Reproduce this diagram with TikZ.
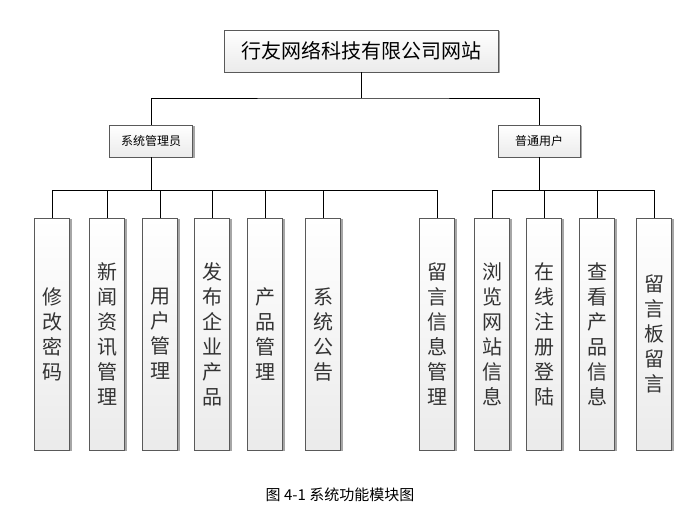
\documentclass[tikz,border=0pt]{standalone}
\usepackage{fontspec}
\setmainfont{Noto Sans CJK SC}
\usetikzlibrary{shadows}
\tikzset{
  mod/.style={draw=black!65, top color=white, bottom color=black!8, general shadow={fill=black!35, shadow xshift=2pt, shadow yshift=-1pt}},
  leaf/.style={mod, minimum width=35pt, minimum height=232pt, inner sep=0pt, align=center, font=\fontsize{20}{25}\selectfont, text=black!80, anchor=north},
  link/.style={draw, thin}
}
\begin{document}
\begin{tikzpicture}[x=1pt,y=-1pt]
\useasboundingbox (0,0) rectangle (685,520);
\node [mod, minimum width=274pt, minimum height=42pt, font=\fontsize{20}{22}\selectfont] (root) at (361,51) {行友网络科技有限公司网站};
\node [mod, minimum width=83pt, minimum height=32pt, font=\fontsize{12}{14}\selectfont] (admin) at (151,141) {系统管理员};
\node [mod, minimum width=82pt, minimum height=32pt, font=\fontsize{12}{14}\selectfont] (user) at (539,141) {普通用户};

\node [leaf] (pwd) at (52,218) {修\\改\\密\\码};
\node [leaf] (news) at (107,218) {新\\闻\\资\\讯\\管\\理};
\node [leaf] (umgr) at (160,218) {用\\户\\管\\理};
\node [leaf] (pub) at (212,218) {发\\布\\企\\业\\产\\品};
\node [leaf] (pmgr) at (265,218) {产\\品\\管\\理};
\node [leaf] (notice) at (323,218) {系\\统\\公\\告};
\node [leaf] (msg) at (437,218) {留\\言\\信\\息\\管\\理};
\node [leaf] (browse) at (492,218) {浏\\览\\网\\站\\信\\息};
\node [leaf] (reg) at (544,218) {在\\线\\注\\册\\登\\陆};
\node [leaf] (view) at (597,218) {查\\看\\产\\品\\信\\息};
\node [leaf] (board) at (654,218) {留\\言\\板\\留\\言};

\coordinate (rj) at (361,98);
\draw [link] (root.south) -- (rj);
\draw [link] (admin.north) |- (rj) -| (user.north);

\foreach \n in {pwd,news,umgr,pub,pmgr,notice,msg}
  \draw [link] (admin.south) -- (151,190) -| (\n.north);
\foreach \n in {browse,reg,view,board}
  \draw [link] (user.south) -- (539,190) -| (\n.north);

\node [font=\fontsize{15}{17}\selectfont] (cap) at (340,495) {图 4-1 系统功能模块图};
\end{tikzpicture}
\end{document}
